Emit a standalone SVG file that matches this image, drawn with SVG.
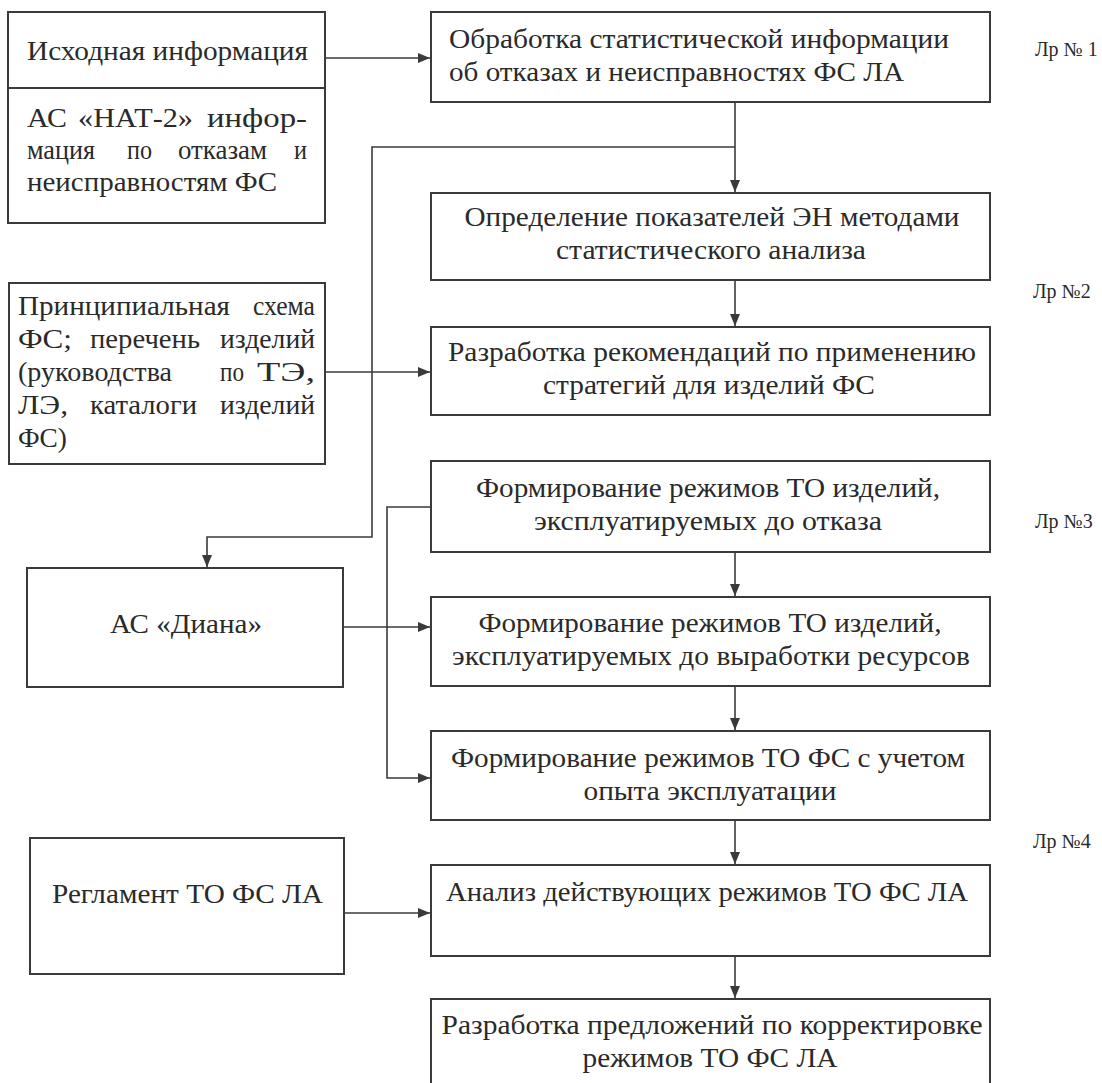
<svg xmlns="http://www.w3.org/2000/svg" width="1102" height="1083" viewBox="0 0 1102 1083">
<defs>
<style>
.box{fill:#fff;stroke:#3a3a3a;stroke-width:2}
text{font-family:"Liberation Serif","Times New Roman","DejaVu Serif",serif;fill:#2a2a2a}
.t{font-size:27px}
.c{text-anchor:middle}
.lr{font-size:20px}
.ln{fill:none;stroke:#3a3a3a;stroke-width:1.6}
</style>
<marker id="ah" viewBox="0 0 12 10" refX="12" refY="5" markerWidth="12" markerHeight="10" markerUnits="userSpaceOnUse" orient="auto">
<path d="M0,0 L12,5 L0,10 z" fill="#3a3a3a"/>
</marker>
</defs>
<rect width="1102" height="1083" fill="#fff"/>

<g id="connectors">
<path class="ln" d="M325,58 H430" marker-end="url(#ah)"/>
<path class="ln" d="M735,102 V192" marker-end="url(#ah)"/>
<path class="ln" d="M735,147 H372 V537 H207 V567" marker-end="url(#ah)"/>
<path class="ln" d="M735,280 V326" marker-end="url(#ah)"/>
<path class="ln" d="M325,372 H430" marker-end="url(#ah)"/>
<path class="ln" d="M735,552 V596" marker-end="url(#ah)"/>
<path class="ln" d="M431,507 H387 V778 H430" marker-end="url(#ah)"/>
<path class="ln" d="M343,627 H430" marker-end="url(#ah)"/>
<path class="ln" d="M735,686 V730" marker-end="url(#ah)"/>
<path class="ln" d="M735,820 V864" marker-end="url(#ah)"/>
<path class="ln" d="M344,913 H430" marker-end="url(#ah)"/>
<path class="ln" d="M735,956 V998" marker-end="url(#ah)"/>
</g>

<g id="src-info">
<rect class="box" x="8" y="12" width="317" height="211"/>
<line x1="8" y1="88" x2="325" y2="88" stroke="#3a3a3a" stroke-width="2"/>
<text class="t" x="27" y="60" textLength="281" lengthAdjust="spacingAndGlyphs">Исходная информация</text>
<text class="t" y="127"><tspan x="27" textLength="40" lengthAdjust="spacingAndGlyphs">АС</tspan> <tspan x="78" textLength="115" lengthAdjust="spacingAndGlyphs">«НАТ-2»</tspan> <tspan x="207" textLength="100" lengthAdjust="spacingAndGlyphs">инфор-</tspan></text>
<text class="t" y="159"><tspan x="27" textLength="68" lengthAdjust="spacingAndGlyphs">мация</tspan> <tspan x="127" textLength="25" lengthAdjust="spacingAndGlyphs">по</tspan> <tspan x="178" textLength="89" lengthAdjust="spacingAndGlyphs">отказам</tspan> <tspan x="294" textLength="13" lengthAdjust="spacingAndGlyphs">и</tspan></text>
<text class="t" x="27" y="191" textLength="250" lengthAdjust="spacingAndGlyphs">неисправностям ФС</text>
</g>

<g id="scheme">
<rect class="box" x="9" y="283" width="316" height="181"/>
<text class="t" y="315"><tspan x="18" textLength="212" lengthAdjust="spacingAndGlyphs">Принципиальная</tspan> <tspan x="253" textLength="62" lengthAdjust="spacingAndGlyphs">схема</tspan></text>
<text class="t" y="348"><tspan x="18" textLength="54" lengthAdjust="spacingAndGlyphs">ФС;</tspan> <tspan x="90" textLength="110" lengthAdjust="spacingAndGlyphs">перечень</tspan> <tspan x="220" textLength="95" lengthAdjust="spacingAndGlyphs">изделий</tspan></text>
<text class="t" y="381"><tspan x="18" textLength="154" lengthAdjust="spacingAndGlyphs">(руководства</tspan> <tspan x="220" textLength="24" lengthAdjust="spacingAndGlyphs">по</tspan> <tspan x="257" textLength="58" lengthAdjust="spacingAndGlyphs">ТЭ,</tspan></text>
<text class="t" y="414"><tspan x="18" textLength="50" lengthAdjust="spacingAndGlyphs">ЛЭ,</tspan> <tspan x="90" textLength="107" lengthAdjust="spacingAndGlyphs">каталоги</tspan> <tspan x="220" textLength="95" lengthAdjust="spacingAndGlyphs">изделий</tspan></text>
<text class="t" x="18" y="447" textLength="49" lengthAdjust="spacingAndGlyphs">ФС)</text>
</g>

<g id="diana">
<rect class="box" x="27" y="568" width="316" height="119"/>
<text class="t c" x="186" y="633" textLength="152" lengthAdjust="spacingAndGlyphs">АС «Диана»</text>
</g>

<g id="reglament">
<rect class="box" x="30" y="838" width="314" height="136"/>
<text class="t" x="52" y="903" textLength="271" lengthAdjust="spacingAndGlyphs">Регламент ТО ФС ЛА</text>
</g>

<g id="b1">
<rect class="box" x="431" y="12" width="559" height="90"/>
<text class="t" x="449" y="48" textLength="500" lengthAdjust="spacingAndGlyphs">Обработка статистической информации</text>
<text class="t" x="449" y="81" textLength="455" lengthAdjust="spacingAndGlyphs">об отказах и неисправностях ФС ЛА</text>
</g>

<g id="b2">
<rect class="box" x="431" y="193" width="559" height="87"/>
<text class="t c" x="712" y="226" textLength="495" lengthAdjust="spacingAndGlyphs">Определение показателей ЭН методами</text>
<text class="t c" x="711" y="259" textLength="310" lengthAdjust="spacingAndGlyphs">статистического анализа</text>
</g>

<g id="b3">
<rect class="box" x="431" y="327" width="559" height="88"/>
<text class="t c" x="712" y="361" textLength="528" lengthAdjust="spacingAndGlyphs">Разработка рекомендаций по применению</text>
<text class="t c" x="709" y="394" textLength="332" lengthAdjust="spacingAndGlyphs">стратегий для изделий ФС</text>
</g>

<g id="b4">
<rect class="box" x="431" y="461" width="559" height="91"/>
<text class="t c" x="708" y="497" textLength="464" lengthAdjust="spacingAndGlyphs">Формирование режимов ТО изделий,</text>
<text class="t c" x="708" y="530" textLength="348" lengthAdjust="spacingAndGlyphs">эксплуатируемых до отказа</text>
</g>

<g id="b5">
<rect class="box" x="431" y="597" width="559" height="89"/>
<text class="t c" x="710" y="632" textLength="463" lengthAdjust="spacingAndGlyphs">Формирование режимов ТО изделий,</text>
<text class="t c" x="711" y="665" textLength="518" lengthAdjust="spacingAndGlyphs">эксплуатируемых до выработки ресурсов</text>
</g>

<g id="b6">
<rect class="box" x="431" y="731" width="559" height="89"/>
<text class="t c" x="708" y="767" textLength="514" lengthAdjust="spacingAndGlyphs">Формирование режимов ТО ФС с учетом</text>
<text class="t c" x="710" y="800" textLength="253" lengthAdjust="spacingAndGlyphs">опыта эксплуатации</text>
</g>

<g id="b7">
<rect class="box" x="431" y="865" width="559" height="91"/>
<text class="t" x="446" y="901" textLength="522" lengthAdjust="spacingAndGlyphs">Анализ действующих режимов ТО ФС ЛА</text>
</g>

<g id="b8">
<rect class="box" x="431" y="999" width="559" height="95"/>
<text class="t c" x="712" y="1034" textLength="541" lengthAdjust="spacingAndGlyphs">Разработка предложений по корректировке</text>
<text class="t c" x="710" y="1067" textLength="255" lengthAdjust="spacingAndGlyphs">режимов ТО ФС ЛА</text>
</g>

<g id="labels">
<text class="lr" x="1035" y="56">Лр № 1</text>
<text class="lr" x="1033" y="298">Лр №2</text>
<text class="lr" x="1035" y="528">Лр №3</text>
<text class="lr" x="1033" y="848">Лр №4</text>
</g>
</svg>
